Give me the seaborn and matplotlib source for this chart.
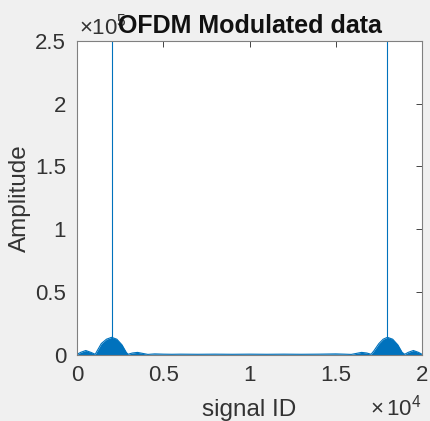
import matplotlib
matplotlib.use("Agg")
import matplotlib.pyplot as plt
import numpy as np
import pandas as pd
import seaborn as sns

# envelope of the modulated signal (amplitude in units of 1e5)
env_x = [0, 200, 500, 800, 1050, 1150, 1400, 1700, 2000, 2300, 2600, 2850, 2950,
         3200, 3500, 3800, 4100, 4500, 5000, 5500, 6000, 7000, 8000, 9000, 10000,
         11000, 12000, 13000, 14000, 15000, 15500, 15900, 16200, 16500, 16800,
         17050, 17200, 17500, 17750, 18000, 18300, 18600, 18850, 19000, 19200,
         19500, 19800, 20000]
env_y = [0.005, 0.02, 0.035, 0.02, 0.005, 0.03, 0.09, 0.125, 0.14, 0.125, 0.08, 0.02, 0.005,
         0.015, 0.02, 0.012, 0.004, 0.008, 0.006, 0.005, 0.006, 0.005, 0.006, 0.005, 0.006,
         0.005, 0.006, 0.005, 0.006, 0.008, 0.006, 0.004, 0.012, 0.02, 0.015,
         0.005, 0.03, 0.09, 0.125, 0.14, 0.125, 0.08, 0.02, 0.005, 0.02,
         0.035, 0.02, 0.005]

# the two pilot spikes (go off the top of the axes)
spike_x = [2000, 18000]
spike_y = [2.8, 2.8]

xticks = [0, 5000, 10000, 15000, 20000]
xtick_labels = ["0", "0.5", "1", "1.5", "2"]
yticks = [0, 0.5, 1, 1.5, 2, 2.5]
ytick_labels = ["0", "0.5", "1", "1.5", "2", "2.5"]

blue = "#0072BD"
txtcol = "#333333"

sns.set_style("white")
plt.rcParams["font.family"] = ["Liberation Sans", "DejaVu Sans"]
plt.rcParams["mathtext.fontset"] = "custom"
plt.rcParams["mathtext.rm"] = "Liberation Sans"

fig = plt.figure(figsize=(4.31, 4.21), dpi=100, facecolor="#F0F0F0")
ax = fig.add_axes([0.179, 0.157, 0.800, 0.746])
ax.set_facecolor("white")

df = pd.DataFrame({"x": env_x, "y": env_y})
sns.lineplot(data=df, x="x", y="y", ax=ax, color=blue, linewidth=0.8)
ax.fill_between(df["x"], 0, df["y"], color=blue, linewidth=0)
ax.vlines(spike_x, 0, spike_y, color=blue, linewidth=0.8)

ax.set_xlim(0, 20000)
ax.set_ylim(0, 2.5)
ax.set_xticks(xticks)
ax.set_xticklabels(xtick_labels)
ax.set_yticks(yticks)
ax.set_yticklabels(ytick_labels)
ax.tick_params(direction="in", length=4, width=0.6, colors="#262626", labelsize=16,
               top=True, right=True, labelcolor=txtcol)
ax.tick_params(axis="x", pad=7)
ax.tick_params(axis="y", pad=8)
for s in ax.spines.values():
    s.set_color("#808080")
    s.set_linewidth(0.8)

ax.set_xlabel("signal ID", fontsize=17.5, color=txtcol, va="baseline")
ax.xaxis.set_label_coords(0.5, -0.194)
ax.set_ylabel("Amplitude", fontsize=17.5, color=txtcol, labelpad=3)
ax.set_title("OFDM Modulated data", fontsize=18, fontweight="bold", color="#111111", pad=6)

# matlab style exponent labels
ax.text(0.005, 1.005, r"$\times10^5$", transform=ax.transAxes, fontsize=16, color=txtcol,
        ha="left", va="bottom", zorder=0)
ax.text(1.0, -0.194, r"$\times\,10^4$", transform=ax.transAxes, fontsize=16, color=txtcol,
        ha="right", va="baseline")

fig.savefig("out.png", dpi=100, facecolor=fig.get_facecolor())
